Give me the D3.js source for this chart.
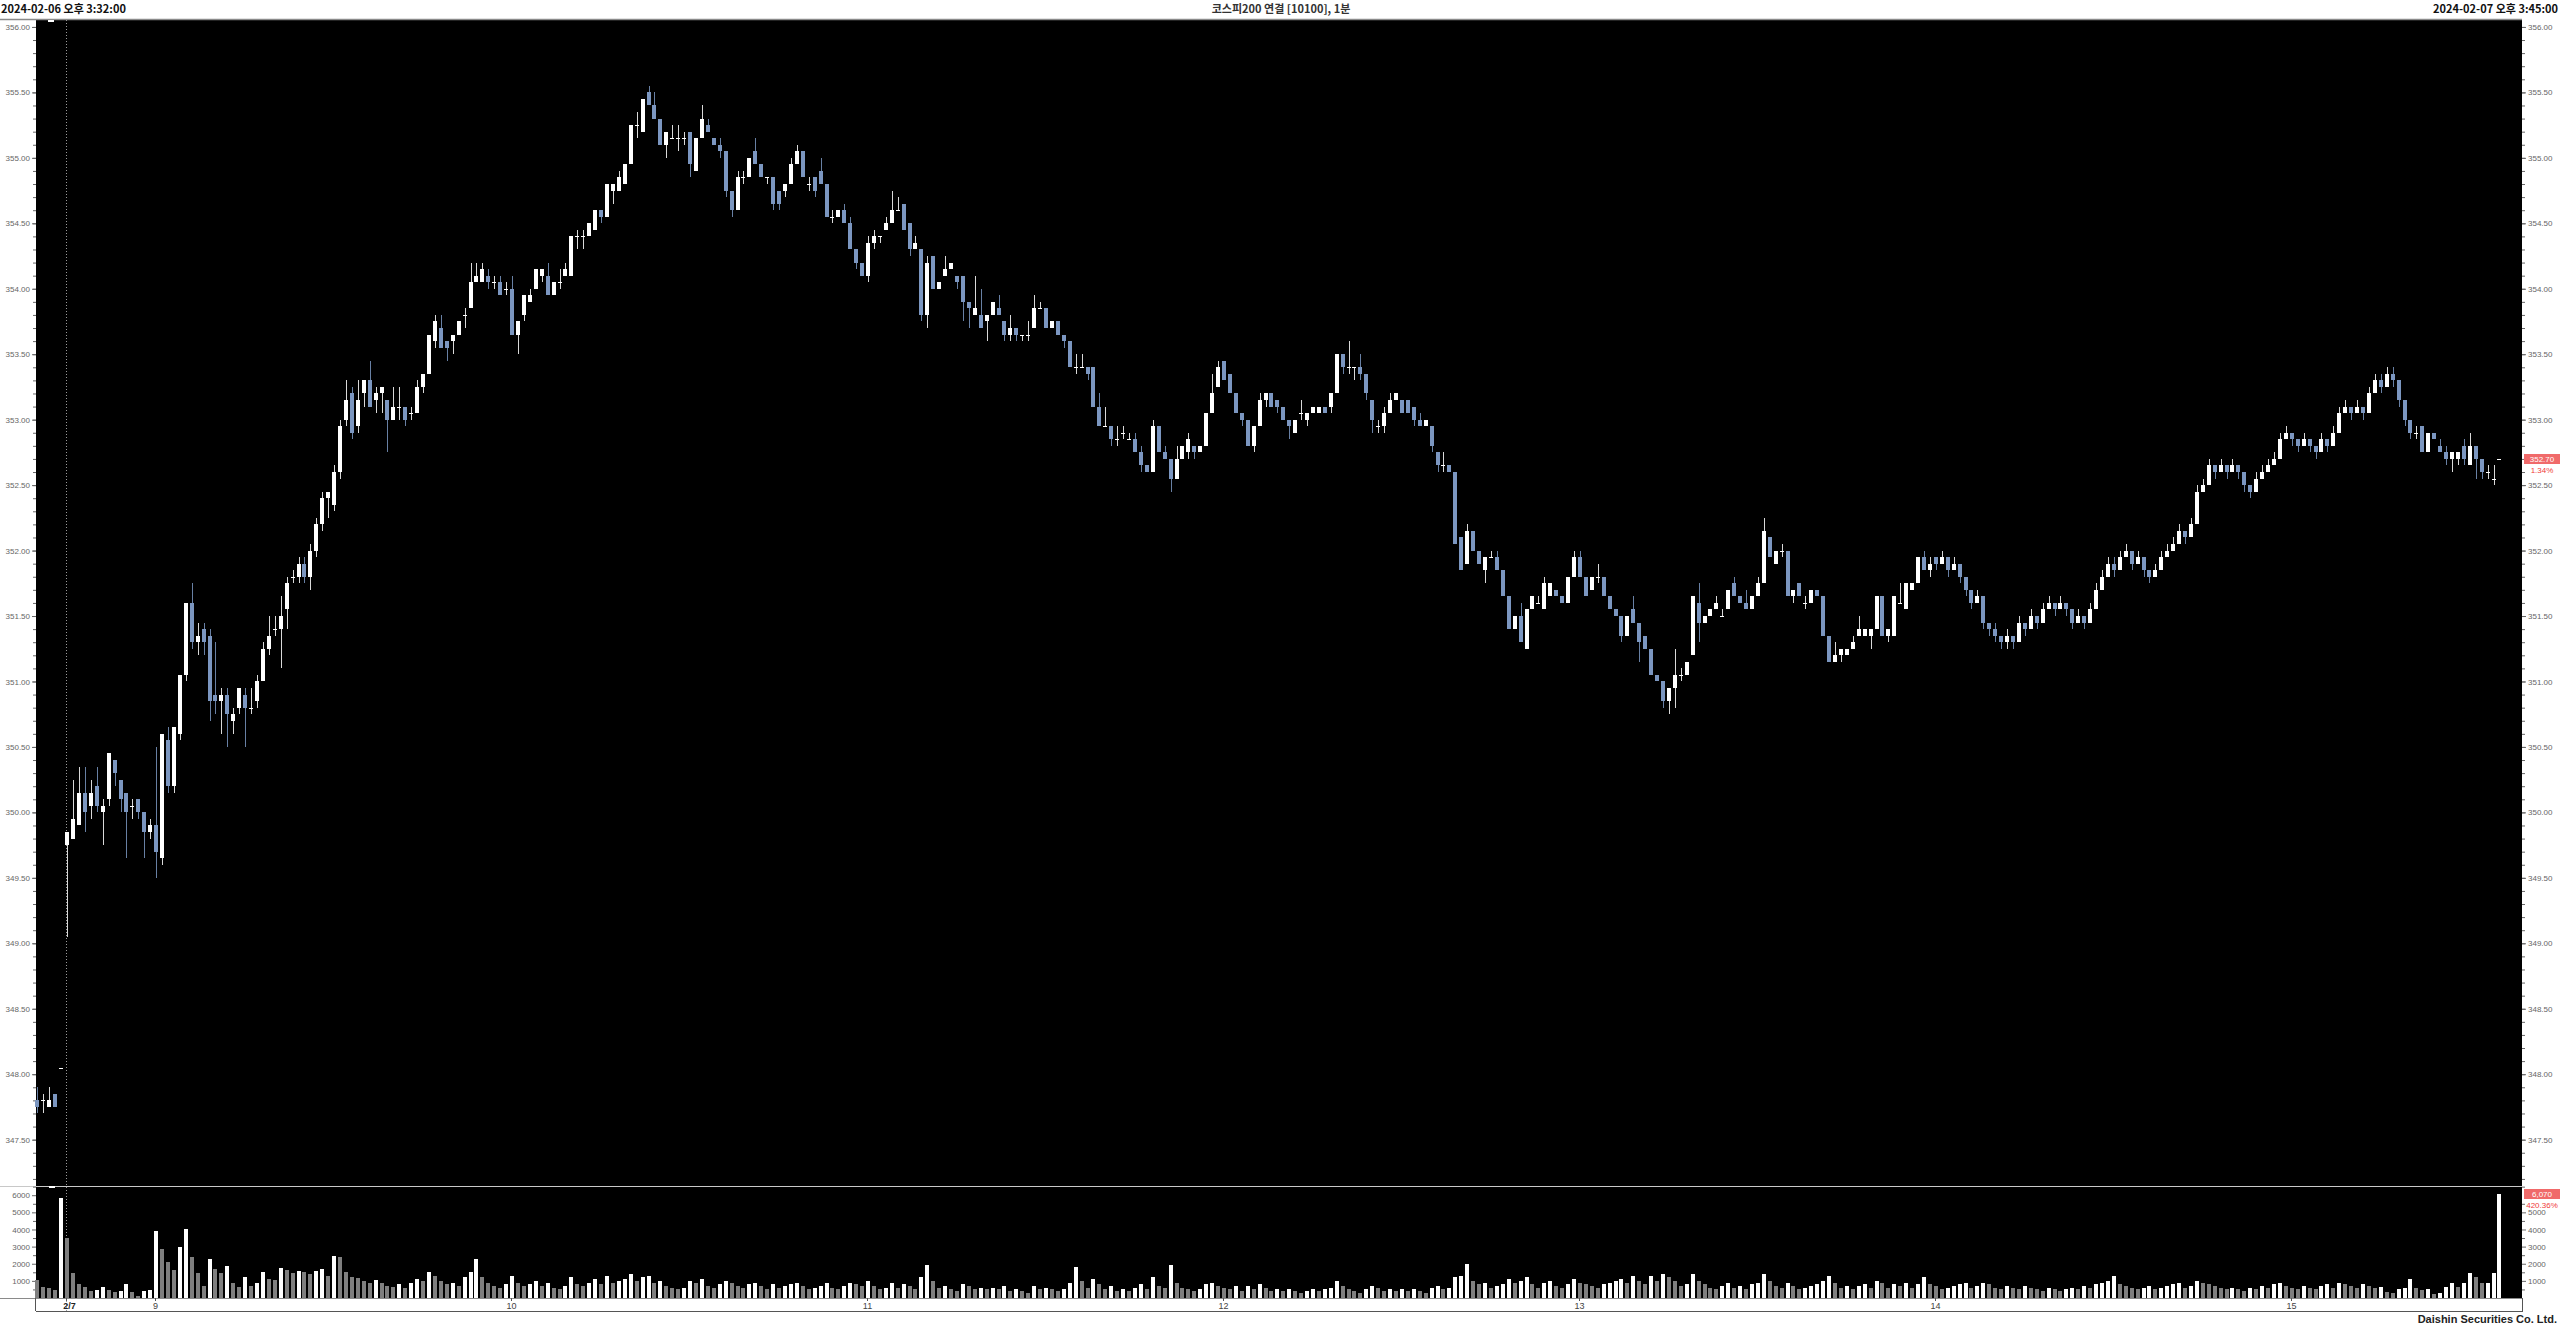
<!DOCTYPE html>
<html><head><meta charset="utf-8">
<script src="https://cdn.jsdelivr.net/npm/d3@7"></script>
<style>html,body{margin:0;padding:0;background:#fff;overflow:hidden}</style>
</head><body>
<svg id="chart" width="2560" height="1328"></svg>
<script>
// ---------- DATA (1-minute bars, KOSPI200 continuous futures) ----------
const open = [
347.80,347.80,347.75,347.85,348.05,349.75,349.80,349.90,350.15,350.05,
350.20,350.00,350.10,350.40,350.25,350.15,350.05,350.10,350.00,349.85,
349.90,349.65,350.55,350.20,350.60,351.05,351.60,351.30,351.40,351.35,
350.90,350.85,350.90,350.70,350.80,350.90,350.80,350.85,351.00,351.25,
351.40,351.40,351.55,351.80,351.80,351.90,351.80,352.00,352.20,352.40,
352.35,352.60,353.00,353.20,352.95,353.20,353.30,353.15,353.20,353.15,
353.00,353.10,353.10,353.05,353.05,353.25,353.35,353.60,353.70,353.60,
353.60,353.65,353.80,353.85,354.05,354.05,354.10,354.05,354.05,354.00,
354.00,353.65,353.80,353.90,354.00,354.10,354.10,353.95,354.05,354.10,
354.10,354.40,354.40,354.40,354.45,354.60,354.55,354.75,354.75,354.80,
354.95,355.25,355.20,355.50,355.40,355.30,355.10,355.15,355.15,355.15,
355.20,354.90,355.15,355.25,355.15,355.10,355.05,354.75,354.60,354.85,
354.85,355.05,354.95,354.85,354.85,354.75,354.75,354.80,354.95,355.05,
354.80,354.85,354.90,354.80,354.55,354.55,354.60,354.50,354.30,354.20,
354.10,354.35,354.40,354.45,354.50,354.60,354.65,354.50,354.30,354.30,
353.80,354.25,354.00,354.10,354.15,354.10,354.10,353.90,353.80,353.80,
353.75,353.80,353.85,353.75,353.65,353.70,353.65,353.65,353.70,353.85,
353.85,353.70,353.75,353.65,353.60,353.40,353.40,353.40,353.40,353.10,
352.95,352.95,352.85,352.90,352.85,352.85,352.75,352.65,352.60,352.95,
352.75,352.70,352.55,352.70,352.75,352.80,352.75,352.80,353.05,353.25,
353.45,353.35,353.20,353.05,353.00,352.80,352.95,353.15,353.20,353.15,
353.10,353.00,352.90,353.05,353.00,353.05,353.05,353.10,353.10,353.20,
353.50,353.40,353.40,353.40,353.35,353.15,352.95,352.95,353.05,353.15,
353.15,353.15,353.10,353.00,352.95,352.95,352.75,352.65,352.65,352.60,
352.10,351.90,352.15,352.00,351.85,351.95,351.95,351.85,351.65,351.40,
351.50,351.25,351.55,351.60,351.55,351.65,351.70,351.65,351.60,351.80,
351.95,351.80,351.70,351.80,351.80,351.65,351.55,351.50,351.35,351.55,
351.45,351.35,351.25,351.05,351.00,350.85,350.95,351.05,351.05,351.20,
351.60,351.45,351.50,351.55,351.50,351.55,351.75,351.65,351.60,351.55,
351.65,351.75,352.10,351.90,352.00,352.00,351.65,351.75,351.60,351.60,
351.70,351.65,351.35,351.15,351.20,351.20,351.25,351.35,351.35,351.35,
351.40,351.65,351.35,351.35,351.60,351.55,351.70,351.75,351.95,351.85,
351.95,351.90,351.95,351.85,351.90,351.80,351.70,351.60,351.65,
351.45,351.40,351.35,351.30,351.35,351.30,351.45,351.40,351.50,351.45,
351.55,351.60,351.55,351.60,351.55,351.45,351.50,351.45,351.55,351.70,
351.80,351.90,351.85,351.95,352.00,351.90,351.95,351.85,351.80,351.85,
351.95,352.00,352.05,352.15,352.10,352.20,352.45,352.50,352.65,352.60,
352.65,352.60,352.65,352.60,352.50,352.45,352.55,352.60,352.65,352.70,
352.85,352.90,352.85,352.80,352.85,352.80,352.75,352.85,352.80,352.90,
353.05,353.10,353.05,353.10,353.05,353.20,353.30,353.25,353.35,353.30,
353.15,353.00,352.90,352.95,352.75,352.90,352.80,352.75,352.70,352.70,
352.80,352.65,352.80,352.70,352.60,352.55,352.70];
const high = [
347.90,347.85,347.90,347.85,348.05,349.85,350.25,350.35,350.35,350.25,
350.35,350.10,350.45,350.40,350.25,350.15,350.10,350.10,350.00,349.95,
350.50,350.60,350.65,350.65,351.05,351.60,351.75,351.45,351.45,351.40,
351.30,350.95,350.95,350.80,350.95,350.95,350.95,351.05,351.30,351.50,
351.50,351.65,351.80,351.85,351.95,351.95,352.05,352.25,352.45,352.45,
352.65,353.00,353.30,353.25,353.30,353.30,353.45,353.25,353.25,353.15,
353.25,353.25,353.10,353.10,353.30,353.35,353.65,353.80,353.80,353.60,
353.65,353.75,353.85,354.20,354.20,354.20,354.15,354.10,354.10,354.05,
354.10,353.75,353.95,354.00,354.15,354.15,354.20,354.05,354.15,354.20,
354.40,354.45,354.45,354.50,354.60,354.60,354.80,354.80,354.90,354.95,
355.25,355.35,355.45,355.55,355.50,355.30,355.20,355.25,355.25,355.20,
355.20,355.15,355.40,355.30,355.15,355.15,355.05,354.75,354.90,354.90,
355.00,355.15,354.95,354.85,354.85,354.75,354.80,355.00,355.10,355.05,
354.85,354.85,355.00,354.80,354.60,354.60,354.65,354.55,354.30,354.20,
354.40,354.45,354.40,354.55,354.75,354.70,354.65,354.50,354.40,354.30,
354.25,354.25,354.05,354.25,354.20,354.10,354.10,353.90,354.10,354.00,
353.80,353.90,353.95,353.75,353.80,353.70,353.65,353.75,353.95,353.90,
353.85,353.75,353.75,353.65,353.60,353.50,353.50,353.40,353.40,353.20,
353.10,352.95,352.95,352.95,352.90,352.90,352.80,352.65,353.00,352.95,
352.80,352.70,352.80,352.80,352.90,352.80,352.80,353.05,353.35,353.45,
353.45,353.35,353.20,353.05,353.00,352.95,353.20,353.20,353.20,353.15,
353.10,353.00,353.00,353.15,353.05,353.10,353.10,353.10,353.20,353.50,
353.50,353.60,353.40,353.50,353.35,353.15,353.00,353.10,353.20,353.20,
353.15,353.15,353.10,353.05,353.00,352.95,352.75,352.75,352.65,352.60,
352.10,352.20,352.15,352.00,351.95,352.00,352.00,351.85,351.65,351.50,
351.60,351.55,351.65,351.65,351.80,351.75,351.70,351.65,351.80,352.00,
352.00,351.80,351.80,351.90,351.80,351.65,351.55,351.50,351.50,351.65,
351.45,351.35,351.25,351.05,351.00,350.95,351.25,351.10,351.15,351.65,
351.75,351.50,351.55,351.65,351.55,351.70,351.80,351.65,351.70,351.65,
351.80,352.25,352.10,352.00,352.05,352.00,351.70,351.75,351.65,351.70,
351.70,351.65,351.35,351.30,351.25,351.25,351.35,351.50,351.40,351.40,
351.65,351.65,351.40,351.65,351.75,351.75,351.75,351.95,352.00,351.95,
351.95,352.00,351.95,351.95,351.90,351.80,351.70,351.70,351.65,
351.45,351.45,351.35,351.40,351.35,351.50,351.45,351.55,351.50,351.60,
351.65,351.60,351.65,351.60,351.55,351.55,351.50,351.60,351.75,351.85,
351.95,351.95,352.00,352.05,352.00,352.00,351.95,351.85,351.90,352.00,
352.05,352.10,352.20,352.15,352.25,352.50,352.55,352.70,352.65,352.70,
352.65,352.70,352.65,352.60,352.50,352.60,352.65,352.70,352.75,352.90,
352.95,352.90,352.85,352.90,352.85,352.80,352.90,352.85,352.95,353.10,
353.15,353.10,353.15,353.10,353.25,353.35,353.35,353.40,353.40,353.30,
353.15,353.00,352.95,352.95,352.90,352.90,352.85,352.80,352.75,352.75,
352.85,352.90,352.80,352.70,352.65,352.65,352.70];
const low = [
347.70,347.70,347.75,347.75,348.05,349.05,349.80,349.90,349.85,349.95,
350.00,349.75,350.05,350.20,350.00,349.65,349.95,349.95,349.65,349.80,
349.50,349.60,350.15,350.15,350.55,351.00,351.25,351.20,351.20,350.70,
350.75,350.60,350.50,350.60,350.75,350.50,350.75,350.80,351.00,351.20,
351.35,351.10,351.40,351.75,351.75,351.75,351.70,351.95,352.15,352.25,
352.30,352.55,352.95,352.85,352.90,353.10,353.10,353.05,353.05,352.75,
353.00,353.00,352.95,353.00,353.05,353.20,353.35,353.55,353.55,353.45,
353.50,353.65,353.70,353.85,354.05,354.05,354.00,354.00,353.95,353.95,
353.65,353.50,353.75,353.90,354.00,354.05,353.95,353.95,354.00,354.10,
354.10,354.30,354.30,354.40,354.45,354.50,354.55,354.65,354.75,354.80,
354.95,355.15,355.20,355.40,355.30,355.10,355.00,355.15,355.05,355.10,
354.85,354.90,355.15,355.20,355.10,355.00,354.70,354.55,354.60,354.80,
354.85,354.95,354.85,354.80,354.60,354.60,354.70,354.80,354.95,354.85,
354.75,354.70,354.80,354.55,354.50,354.55,354.50,354.30,354.15,354.10,
354.05,354.30,354.35,354.45,354.50,354.60,354.45,354.25,354.30,353.75,
353.70,354.00,354.00,354.10,354.15,354.00,353.75,353.70,353.80,353.70,
353.60,353.80,353.80,353.60,353.60,353.60,353.60,353.60,353.70,353.85,
353.70,353.70,353.65,353.55,353.40,353.35,353.40,353.30,353.10,352.95,
352.95,352.80,352.80,352.85,352.85,352.75,352.60,352.60,352.60,352.75,
352.70,352.45,352.55,352.70,352.70,352.70,352.75,352.80,353.05,353.25,
353.30,353.20,353.05,352.95,352.80,352.75,352.95,353.10,353.10,353.05,
353.00,352.85,352.90,353.00,352.95,353.05,353.05,353.05,353.05,353.20,
353.35,353.35,353.30,353.30,353.15,352.90,352.90,352.90,353.05,353.15,
353.05,353.05,352.95,352.95,352.95,352.75,352.60,352.60,352.60,352.05,
351.85,351.90,352.00,351.90,351.75,351.95,351.85,351.65,351.40,351.40,
351.30,351.25,351.55,351.60,351.55,351.65,351.65,351.60,351.60,351.80,
351.80,351.65,351.70,351.75,351.65,351.55,351.50,351.30,351.35,351.45,
351.15,351.25,351.05,351.00,350.80,350.75,350.80,351.00,351.05,351.20,
351.30,351.45,351.50,351.55,351.50,351.55,351.65,351.60,351.55,351.55,
351.65,351.75,351.95,351.90,351.95,351.65,351.60,351.65,351.55,351.60,
351.65,351.35,351.15,351.15,351.15,351.20,351.25,351.35,351.35,351.25,
351.40,351.35,351.30,351.35,351.60,351.55,351.70,351.75,351.85,351.80,
351.85,351.90,351.80,351.85,351.75,351.65,351.55,351.60,351.40,
351.35,351.30,351.25,351.25,351.25,351.30,351.35,351.40,351.40,351.45,
351.55,351.50,351.55,351.50,351.40,351.45,351.40,351.45,351.55,351.70,
351.80,351.80,351.85,351.95,351.85,351.90,351.80,351.75,351.80,351.85,
351.95,352.00,352.05,352.05,352.10,352.20,352.45,352.50,352.55,352.60,
352.55,352.60,352.55,352.45,352.40,352.45,352.55,352.60,352.65,352.70,
352.85,352.80,352.75,352.80,352.75,352.70,352.75,352.75,352.80,352.90,
353.05,353.00,353.05,353.00,353.05,353.20,353.20,353.25,353.25,353.10,
352.95,352.85,352.85,352.75,352.75,352.85,352.75,352.65,352.60,352.65,
352.65,352.65,352.55,352.55,352.55,352.50,352.70];
const close = [
347.75,347.80,347.80,347.75,348.05,349.85,349.95,350.15,350.00,350.15,
350.05,350.05,350.45,350.30,350.10,350.00,350.05,350.00,349.85,349.90,
349.70,350.60,350.20,350.65,351.05,351.60,351.30,351.35,351.30,350.85,
350.85,350.90,350.75,350.75,350.95,350.80,350.80,351.00,351.25,351.35,
351.40,351.50,351.75,351.80,351.90,351.80,352.00,352.20,352.40,352.45,
352.60,352.95,353.15,352.90,353.15,353.30,353.10,353.20,353.25,353.00,
353.10,353.10,353.00,353.05,353.25,353.35,353.65,353.75,353.55,353.55,
353.65,353.75,353.80,354.05,354.10,354.15,354.05,354.05,353.95,354.00,
353.65,353.75,353.95,353.95,354.15,354.15,353.95,354.05,354.05,354.15,
354.40,354.40,354.40,354.50,354.60,354.55,354.80,354.80,354.85,354.95,
355.25,355.25,355.45,355.40,355.30,355.10,355.20,355.15,355.15,355.15,
354.95,355.15,355.30,355.20,355.10,355.05,354.75,354.60,354.85,354.85,
355.00,354.95,354.85,354.85,354.65,354.65,354.80,354.95,355.05,354.85,
354.80,354.75,354.80,354.55,354.55,354.60,354.50,354.30,354.20,354.10,
354.35,354.40,354.40,354.50,354.60,354.60,354.45,354.30,354.35,353.80,
354.20,354.00,354.05,354.15,354.20,354.05,353.90,353.85,353.85,353.70,
353.80,353.90,353.80,353.65,353.70,353.65,353.65,353.65,353.85,353.85,
353.70,353.75,353.65,353.60,353.40,353.40,353.40,353.35,353.10,352.95,
352.95,352.85,352.85,352.90,352.85,352.75,352.65,352.60,352.95,352.75,
352.70,352.55,352.70,352.80,352.85,352.75,352.80,353.05,353.20,353.40,
353.30,353.20,353.05,353.00,352.80,352.95,353.15,353.20,353.10,353.10,
353.00,352.95,353.00,353.05,353.05,353.10,353.10,353.05,353.20,353.50,
353.40,353.40,353.40,353.35,353.20,353.00,352.95,353.05,353.15,353.20,
353.05,353.05,353.00,352.95,353.00,352.80,352.65,352.65,352.60,352.05,
351.85,352.15,352.00,351.90,351.95,351.95,351.85,351.65,351.40,351.50,
351.30,351.55,351.65,351.60,351.75,351.75,351.65,351.60,351.80,351.95,
351.80,351.65,351.80,351.80,351.65,351.55,351.50,351.35,351.50,351.45,
351.30,351.25,351.05,351.00,350.85,350.95,351.05,351.05,351.15,351.65,
351.45,351.50,351.55,351.60,351.50,351.70,351.65,351.60,351.55,351.65,
351.75,352.15,351.95,352.00,352.00,351.65,351.70,351.65,351.60,351.70,
351.65,351.35,351.15,351.20,351.25,351.25,351.30,351.40,351.40,351.40,
351.65,351.35,351.40,351.65,351.60,351.75,351.75,351.95,351.85,351.90,
351.90,351.95,351.85,351.90,351.80,351.70,351.60,351.65,351.45,
351.40,351.35,351.30,351.35,351.30,351.45,351.40,351.50,351.45,351.55,
351.60,351.55,351.60,351.55,351.45,351.50,351.45,351.55,351.70,351.80,
351.90,351.85,351.95,352.00,351.90,351.95,351.85,351.80,351.85,351.95,
352.00,352.05,352.15,352.10,352.20,352.45,352.50,352.65,352.60,352.65,
352.60,352.65,352.60,352.50,352.45,352.55,352.60,352.65,352.70,352.85,
352.90,352.85,352.80,352.85,352.80,352.75,352.85,352.80,352.90,353.05,
353.10,353.05,353.10,353.05,353.20,353.30,353.25,353.35,353.30,353.15,
353.00,352.90,352.90,352.75,352.90,352.85,352.75,352.70,352.75,352.75,
352.70,352.80,352.70,352.60,352.60,352.55,352.70];
const volume = [
1050,620,580,470,5820,3520,1440,820,620,430,
440,620,470,350,430,800,350,140,390,470,
3930,2840,2100,1620,2960,4010,2410,1480,700,2260,
1710,1440,1870,860,620,1210,700,860,1500,1130,
1050,1730,1640,1440,1600,1500,1400,1600,1700,1300,
2450,2400,1500,1250,1150,1000,900,1050,850,700,
650,800,600,900,1100,1000,1500,1300,1000,800,
900,700,1200,1500,2300,1200,900,700,600,800,
1300,900,700,800,1000,700,900,600,500,700,
1200,800,700,900,1100,800,1300,900,1000,1100,
1400,1000,1200,1300,900,1000,700,600,500,600,
1000,900,1100,700,600,800,1000,900,700,600,
800,900,700,500,800,600,700,800,900,700,
500,600,700,900,600,500,700,900,800,700,
1000,700,500,600,900,600,800,700,500,1200,
1900,1000,600,700,500,400,800,700,500,600,
500,600,500,700,400,500,400,300,700,500,
600,500,400,500,900,1800,1000,600,1100,800,
500,700,400,500,400,600,800,500,1200,700,
600,1900,900,600,500,400,500,800,900,700,
600,500,700,400,700,500,800,600,400,500,
400,500,400,300,400,500,400,500,600,1000,
700,500,400,300,500,700,600,400,500,400,
500,400,500,400,300,600,700,500,600,1200,
1300,2000,1000,800,900,600,700,800,1100,900,
1000,1200,800,600,900,1000,700,600,800,1100,
900,800,700,600,800,900,1000,1100,900,1300,
1000,800,1300,1000,1400,1200,1000,700,800,1400,
1000,800,600,500,700,900,600,700,500,800,
900,1400,1000,700,600,900,700,500,600,700,
800,1000,1300,900,600,700,500,700,800,600,
1000,900,600,800,700,900,600,800,1200,800,
700,500,600,700,800,900,600,700,900,
800,600,500,700,600,500,700,600,500,400,
600,500,400,500,600,500,700,600,800,900,
1000,1300,800,700,600,500,600,700,500,600,
700,800,900,600,700,1000,900,800,700,600,
500,600,500,400,600,500,700,600,800,900,
700,600,500,700,600,500,700,800,600,900,
800,700,600,800,700,600,620,350,310,510,
560,1090,560,470,510,230,310,660,900,620,
860,1480,1250,860,900,1444,6070];

// time axis: bar index of each label
const timeLabels = ["2/7", "9", "10", "11", "12", "13", "14", "15"];
const timeLabelBars = [5, 20, 80, 140, 200, 260, 320, 380];
const priceTicks = d3.range(347.5, 356.001, 0.5);
const priceMinorTicks = d3.range(347.2, 356.001, 0.1);
const volumeTicks = [1000, 2000, 3000, 4000, 5000, 6000];
const volumeMinorTicks = [500, 1500, 2500, 3500, 4500, 5500, 6500];
const prevSessionBar = 4;        // last bar of 2024-02-06
const titleText = "코스피200 연결 [10100], 1분";
const startText = "2024-02-06 오후 3:32:00";
const endText = "2024-02-07 오후 3:45:00";
const footerText = "Daishin Securities Co. Ltd.";

// ---------- LAYOUT ----------
const W = 2560, H = 1328;
const L = 36, R = 2522;
const pTop = 20, pBot = 1186, vBot = 1298, axBot = 1311;
const UP = "#ffffff", DOWN = "#7b96c0", UPWICK = "#d8d8d8", DOWNWICK = "#6880a4";
const AXC = "#666666";
const FONT = "'Liberation Sans', Arial, sans-serif";
const KFONT = "'Noto Sans CJK KR', 'Noto Sans', sans-serif";

const N = close.length;
const svg = d3.select("#chart");
svg.append("rect").attr("width", W).attr("height", H).attr("fill", "#fff");

const x = d3.scaleLinear().domain([-0.25, N + 2.8]).range([L, R]);
const y = d3.scaleLinear().domain([347.146, 356.053]).range([pBot, pTop]);
const yv = d3.scaleLinear().domain([0, 6538]).range([vBot, pBot]);

// panels
svg.append("rect").attr("x", L).attr("y", pTop).attr("width", R - L).attr("height", vBot - pTop).attr("fill", "#000");
svg.append("line").attr("x1", 0).attr("x2", R).attr("y1", pTop - 0.5).attr("y2", pTop - 0.5).attr("stroke", "#8a8a8a").attr("stroke-width", 1.5);
svg.append("line").attr("x1", 0).attr("x2", R).attr("y1", pBot + 0.5).attr("y2", pBot + 0.5).attr("stroke", "#c8c8c8").attr("stroke-width", 1);
// bottom time strip
const strip = svg.append("g");
strip.append("line").attr("x1", 0).attr("x2", R + 1).attr("y1", vBot + 0.5).attr("y2", vBot + 0.5).attr("stroke", "#8a8a8a");
strip.append("line").attr("x1", L - 0.5).attr("x2", L - 0.5).attr("y1", vBot).attr("y2", axBot).attr("stroke", "#555");
strip.append("line").attr("x1", R + 0.5).attr("x2", R + 0.5).attr("y1", vBot).attr("y2", axBot).attr("stroke", "#555");
strip.append("line").attr("x1", L).attr("x2", R + 1).attr("y1", axBot + 0.5).attr("y2", axBot + 0.5).attr("stroke", "#555");

// date separator (dotted)
const sepX = Math.round(x(prevSessionBar + 1)) - 0.5;
svg.append("line").attr("x1", sepX).attr("x2", sepX).attr("y1", pTop).attr("y2", axBot)
  .attr("stroke", "#9a9a9a").attr("stroke-dasharray", "1,2");

// ---------- axes ----------
function styleAxis(g) {
  g.select(".domain").remove();
  g.selectAll("line").attr("stroke", AXC);
  g.selectAll("text").attr("fill", AXC).attr("font-size", 8).attr("font-family", FONT);
}
svg.append("g").attr("transform", `translate(${L},0)`)
  .call(d3.axisLeft(y).tickValues(priceMinorTicks).tickSize(3).tickFormat("")).call(styleAxis);
svg.append("g").attr("transform", `translate(${L},0)`)
  .call(d3.axisLeft(y).tickValues(priceTicks).tickSize(4).tickPadding(2).tickFormat(d3.format(".2f"))).call(styleAxis);
svg.append("g").attr("transform", `translate(${R},0)`)
  .call(d3.axisRight(y).tickValues(priceMinorTicks).tickSize(3).tickFormat("")).call(styleAxis);
svg.append("g").attr("transform", `translate(${R},0)`)
  .call(d3.axisRight(y).tickValues(priceTicks).tickSize(4).tickPadding(2).tickFormat(d3.format(".2f"))).call(styleAxis);

svg.append("g").attr("transform", `translate(${L},0)`)
  .call(d3.axisLeft(yv).tickValues(volumeMinorTicks.filter(v => v < 6538)).tickSize(3).tickFormat("")).call(styleAxis);
svg.append("g").attr("transform", `translate(${L},0)`)
  .call(d3.axisLeft(yv).tickValues(volumeTicks).tickSize(4).tickPadding(2).tickFormat(d3.format("d"))).call(styleAxis);
svg.append("g").attr("transform", `translate(${R},0)`)
  .call(d3.axisRight(yv).tickValues(volumeMinorTicks.filter(v => v < 6538)).tickSize(3).tickFormat("")).call(styleAxis);
// right volume labels: the top one is covered by the last-value box in the original
svg.append("g").attr("transform", `translate(${R},0)`)
  .call(d3.axisRight(yv).tickValues(volumeTicks.filter(v => v < 6000)).tickSize(4).tickPadding(2).tickFormat(d3.format("d"))).call(styleAxis);

// time axis labels
const tg = svg.append("g");
timeLabelBars.forEach((b, k) => {
  const tx = k === 0 ? sepX : Math.round(x(b)) - 0.5;
  tg.append("line").attr("x1", tx).attr("x2", tx).attr("y1", vBot).attr("y2", vBot + 3).attr("stroke", "#555");
  tg.append("text").attr("x", k === 0 ? tx + 3 : tx).attr("y", vBot + 11)
    .attr("text-anchor", "middle").attr("font-size", 9).attr("font-family", FONT)
    .attr("font-weight", k === 0 ? "bold" : "normal").attr("fill", k === 0 ? "#222" : "#444")
    .text(timeLabels[k]);
});

// ---------- candles ----------
const bars = d3.range(N).map(i => ({ i, o: open[i], h: high[i], l: low[i], c: close[i], v: volume[i] }));
const cg = svg.append("g").attr("shape-rendering", "crispEdges");
const xc = d => Math.round(x(d.i));
cg.selectAll("rect.wick").data(bars).join("rect").attr("class", "wick")
  .attr("x", d => xc(d)).attr("width", 1)
  .attr("y", d => Math.round(y(d.h)))
  .attr("height", d => Math.max(1, Math.round(y(d.l)) - Math.round(y(d.h))))
  .attr("fill", d => d.c < d.o ? DOWNWICK : UPWICK);
cg.selectAll("rect.body").data(bars).join("rect").attr("class", "body")
  .attr("x", d => xc(d) - 2).attr("width", 4)
  .attr("y", d => Math.round(y(Math.max(d.o, d.c))))
  .attr("height", d => Math.max(1, Math.round(y(Math.min(d.o, d.c))) - Math.round(y(Math.max(d.o, d.c)))))
  .attr("fill", d => d.c < d.o ? DOWN : UP);

// volume bars: white when volume rose versus previous bar, grey otherwise
cg.selectAll("rect.vol").data(bars).join("rect").attr("class", "vol")
  .attr("x", d => xc(d) - 2).attr("width", 4)
  .attr("y", d => Math.round(yv(d.v)))
  .attr("height", d => vBot - Math.round(yv(d.v)))
  .attr("fill", d => (d.i > 0 && d.v > volume[d.i - 1]) ? "#ffffff" : "#7f7f7f");

// scroll markers
svg.append("rect").attr("x", 48).attr("y", pTop).attr("width", 6).attr("height", 2).attr("fill", "#fff");
svg.append("rect").attr("x", 49).attr("y", pBot).attr("width", 6).attr("height", 2).attr("fill", "#fff");

// ---------- last value labels ----------
const last = bars[N - 1];
const chg = (last.c - close[prevSessionBar]) / close[prevSessionBar] * 100;
const vChg = last.v / volume[N - 2] * 100;
function valueBox(yy, txt, sub) {
  const g = svg.append("g");
  g.append("rect").attr("x", R + 2).attr("y", Math.round(yy) - 5).attr("width", W - R - 2).attr("height", 10).attr("fill", "#f06a6a");
  g.append("text").attr("x", (R + W) / 2 + 1).attr("y", Math.round(yy) + 3).attr("text-anchor", "middle")
    .attr("font-size", 8).attr("font-family", FONT).attr("fill", "#fff").text(txt);
  g.append("text").attr("x", (R + W) / 2 + 1).attr("y", Math.round(yy) + 14).attr("text-anchor", "middle")
    .attr("font-size", 8).attr("font-family", FONT).attr("fill", "#f03a3a").text(sub);
}
valueBox(y(last.c), d3.format(".2f")(last.c), d3.format(".2f")(chg) + "%");
valueBox(yv(last.v), d3.format(",")(last.v), d3.format(".2f")(vChg) + "%");

// ---------- header / footer text ----------
svg.append("text").attr("x", 1).attr("y", 13).attr("font-size", 11).attr("font-weight", "bold")
  .attr("font-family", KFONT).attr("fill", "#111").text(startText);
svg.append("text").attr("x", 1281).attr("y", 13).attr("text-anchor", "middle").attr("font-size", 11).attr("font-weight", "bold")
  .attr("font-family", KFONT).attr("fill", "#333").text(titleText);
svg.append("text").attr("x", 2558).attr("y", 13).attr("text-anchor", "end").attr("font-size", 11).attr("font-weight", "bold")
  .attr("font-family", KFONT).attr("fill", "#111").text(endText);
svg.append("text").attr("x", 2557).attr("y", 1323).attr("text-anchor", "end").attr("font-size", 11).attr("font-weight", "bold")
  .attr("font-family", FONT).attr("fill", "#222").text(footerText);
</script>
</body></html>
